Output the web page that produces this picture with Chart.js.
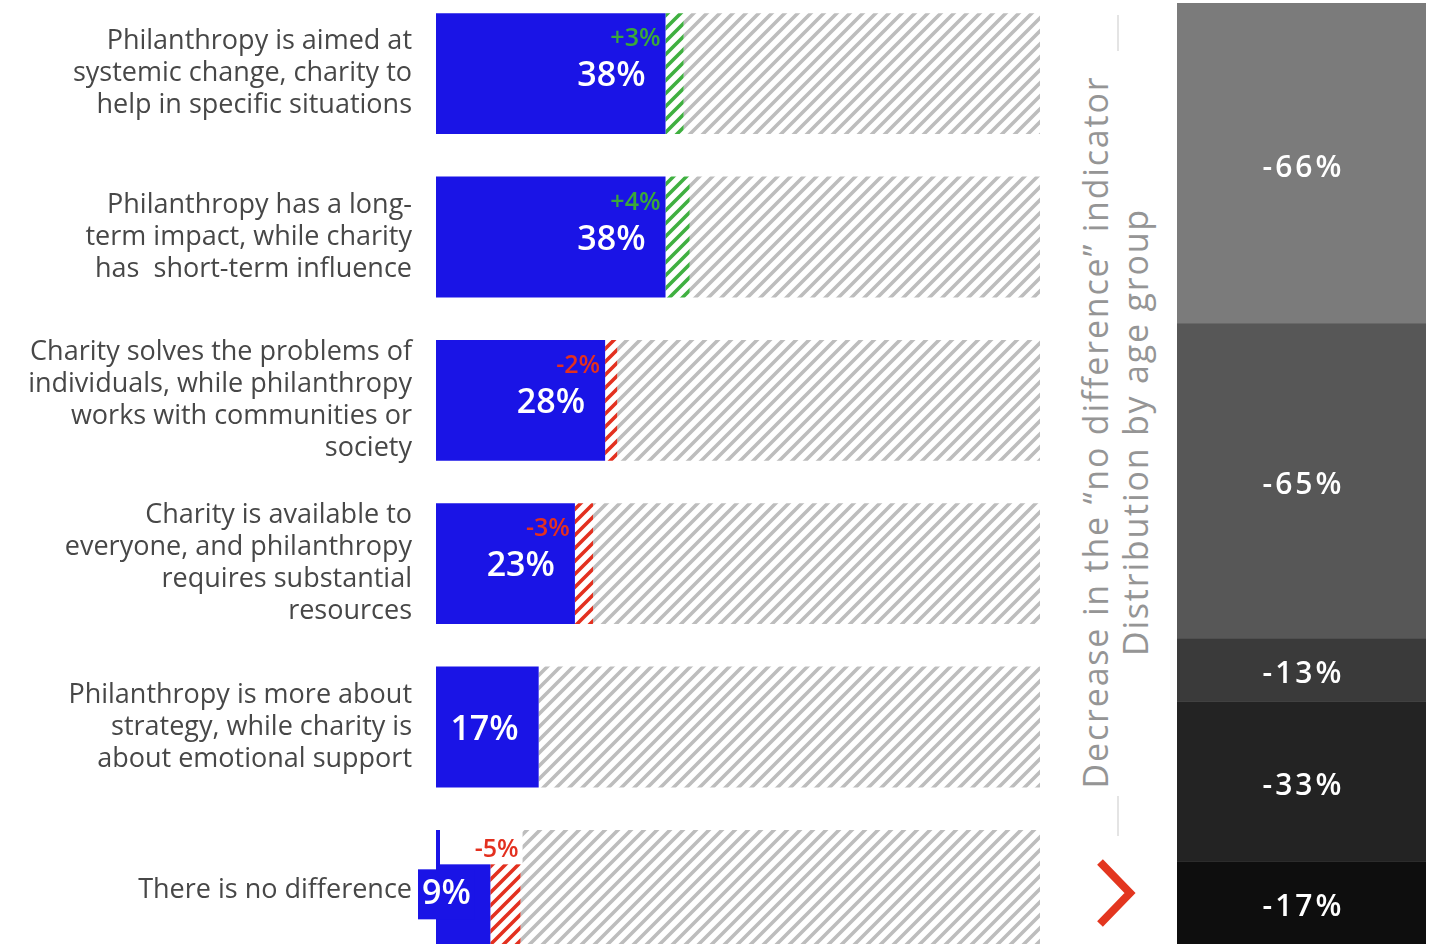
<!DOCTYPE html>
<html>
<head>
<meta charset="utf-8">
<script src="https://cdn.jsdelivr.net/npm/chart.js@4"></script>
<style>
  body { margin: 0; width: 1444px; height: 944px; overflow: hidden; position: relative; background: #fff; font-family: "Open Sans", sans-serif; }
  canvas { position: absolute; }
  #title {
    position: absolute; left: 755px; top: 392px; width: 720px; height: 80px;
    line-height: 40px; font-size: 34px; letter-spacing: 1.8px; color: #959595; text-align: center;
    transform: rotate(-90deg); transform-origin: 50% 50%; white-space: nowrap;
  }
  .rule { position: absolute; left: 1117px; width: 2px; background: #e4e4e4; }
</style>
</head>
<body>
<canvas id="bars" width="1040" height="980" style="left:0;top:-8px"></canvas>
<div id="title">Decrease in the “no difference” indicator<br>Distribution by age group</div>
<div class="rule" style="top:15px;height:36px"></div>
<div class="rule" style="top:796px;height:40px"></div>
<svg style="position:absolute;left:1088px;top:850px" width="60" height="90">
  <polyline points="12,12 42,43 12,74" fill="none" stroke="#e3361f" stroke-width="8" />
</svg>
<canvas id="age" width="249" height="941" style="left:1177px;top:3px"></canvas>
<script>
// statements
const categories = [
  ['Philanthropy is aimed at', 'systemic change, charity to', 'help in specific situations'],
  ['Philanthropy has a long-', 'term impact, while charity', 'has  short-term influence'],
  ['Charity solves the problems of', 'individuals, while philanthropy', 'works with communities or', 'society'],
  ['Charity is available to', 'everyone, and philanthropy', 'requires substantial', 'resources'],
  ['Philanthropy is more about', 'strategy, while charity is', 'about emotional support'],
  ['There is no difference']
]
const shares = [38, 38, 28, 23, 17, 9]
const changes = [3, 4, -2, -3, 0, -5]

// right column
const ageDrops = [66, 65, 13, 33, 17]
const ageColors = ['#7b7b7b', '#575757', '#3a3a3a', '#232323', '#0e0e0e']

const hatch = (color) => {
  const c = document.createElement('canvas')
  c.width = 13
  c.height = 13
  const g = c.getContext('2d')
  g.strokeStyle = color
  g.lineWidth = 3.6
  g.beginPath()
  g.moveTo(-2, 15); g.lineTo(15, -2)
  g.moveTo(-3, 3); g.lineTo(3, -3)
  g.moveTo(10, 16); g.lineTo(16, 10)
  g.stroke()
  return g.createPattern(c, 'repeat')
}

const gains = changes.map(v => Math.max(v, 0))
const losses = changes.map(v => Math.max(-v, 0))
const rest = shares.map((v, i) => 100 - v - Math.abs(changes[i]))

const barLabels = {
  id: 'barLabels',
  afterDatasetsDraw(chart) {
    const ctx = chart.ctx
    const meta = chart.getDatasetMeta(0)
    const unit = chart.scales.x.getPixelForValue(1) - chart.scales.x.getPixelForValue(0)
    meta.data.forEach((bar, i) => {
      const w = bar.x - bar.base
      const top = bar.y - bar.height / 2
      const txt = shares[i] + '%'
      ctx.save()
      ctx.textBaseline = 'middle'
      ctx.font = '600 34px "Open Sans"'
      const tw = ctx.measureText(txt).width
      const narrow = tw + 30 > w
      const ch = changes[i]
      if (ch !== 0) {
        const segEnd = bar.x + Math.abs(ch) * unit
        const ctxt = (ch > 0 ? '+' : '') + ch + '%'
        ctx.font = '600 25px "Open Sans"'
        ctx.textAlign = 'right'
        if (narrow) {
          ctx.fillStyle = '#fff'
          ctx.fillRect(bar.base + 4, top, segEnd - bar.base - 2, bar.height / 2 - 26)
          ctx.fillStyle = ch > 0 ? '#3aa83a' : '#e3301f'
          ctx.fillText(ctxt, segEnd - 2, top + 20)
        } else {
          ctx.fillStyle = ch > 0 ? '#3aa83a' : '#e3301f'
          ctx.fillText(ctxt, bar.x - 5, top + 26)
        }
      }
      ctx.font = '600 34px "Open Sans"'
      if (narrow) {
        ctx.fillStyle = '#1a14e6'
        ctx.fillRect(bar.base - 18, bar.y - 21, tw + 8, 50)
        ctx.textAlign = 'left'
        ctx.fillStyle = '#fff'
        ctx.fillText(txt, bar.base - 14, bar.y + 4)
      } else {
        ctx.textAlign = 'right'
        ctx.fillStyle = '#fff'
        ctx.fillText(txt, bar.x - 20, bar.y + 3)
      }
      ctx.restore()
    })
  }
}

const ageLabels = {
  id: 'ageLabels',
  afterDatasetsDraw(chart) {
    const ctx = chart.ctx
    ctx.save()
    ctx.font = '600 30px "Open Sans"'
    ctx.fillStyle = '#fff'
    ctx.textAlign = 'center'
    ctx.textBaseline = 'middle'
    ctx.letterSpacing = '3px'
    chart.data.datasets.forEach((ds, i) => {
      const bar = chart.getDatasetMeta(i).data[0]
      ctx.fillText('-' + ageDrops[i] + '%', bar.x + 2, (bar.y + bar.base) / 2 + 5)
    })
    ctx.restore()
  }
}

new Chart(document.getElementById('bars'), {
  type: 'bar',
  data: {
    labels: categories,
    datasets: [
      { data: shares, backgroundColor: '#1a14e6' },
      { data: gains, backgroundColor: hatch('#3fb040') },
      { data: losses, backgroundColor: hatch('#e3301f') },
      { data: rest, backgroundColor: hatch('#bdbdbd') },
    ]
  },
  options: {
    indexAxis: 'y',
    responsive: false,
    animation: false,
    devicePixelRatio: 1,
    layout: { padding: 0 },
    datasets: { bar: { barPercentage: 0.74, categoryPercentage: 1, borderWidth: 0 } },
    plugins: { legend: { display: false }, tooltip: { enabled: false } },
    scales: {
      x: { stacked: true, min: 0, max: 100, display: false },
      y: {
        stacked: true,
        grid: { display: false, drawTicks: false },
        border: { display: false },
        afterFit: (scale) => {
          scale.width = 436
          scale.paddingTop = 0
          scale.paddingBottom = 0
        },
        ticks: {
          padding: 24,
          color: '#474747',
          font: { family: '"Open Sans"', size: 27, lineHeight: 1.185 }
        }
      }
    }
  },
  plugins: [barLabels]
})

new Chart(document.getElementById('age'), {
  type: 'bar',
  data: {
    labels: [''],
    datasets: ageDrops.map((v, i) => ({ data: [v], backgroundColor: ageColors[i] }))
  },
  options: {
    responsive: false,
    animation: false,
    devicePixelRatio: 1,
    layout: { padding: 0 },
    datasets: { bar: { barPercentage: 1, categoryPercentage: 1, borderWidth: 0 } },
    plugins: { legend: { display: false }, tooltip: { enabled: false } },
    scales: {
      x: { stacked: true, display: false },
      y: { stacked: true, reverse: true, min: 0, max: ageDrops.reduce((a, b) => a + b, 0), display: false }
    }
  },
  plugins: [ageLabels]
})
</script>
</body>
</html>
